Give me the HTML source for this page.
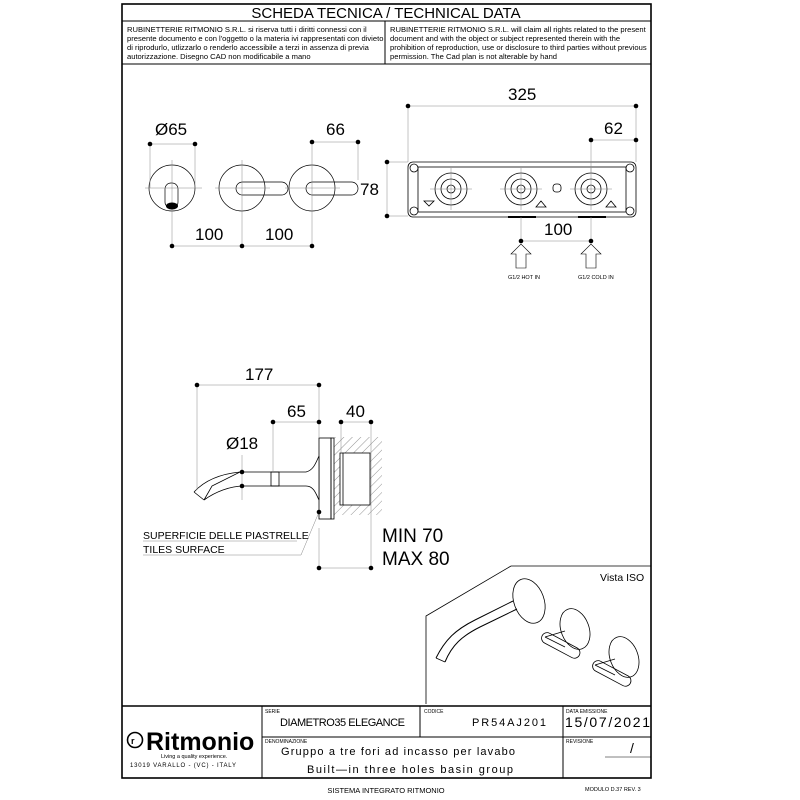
<!DOCTYPE html>
<html><head><meta charset="utf-8"><style>
html,body{margin:0;padding:0;background:#fff;width:800px;height:800px;overflow:hidden}
svg{display:block}
text{font-family:"Liberation Sans",sans-serif;fill:#000}
</style></head><body>
<svg width="800" height="800" viewBox="0 0 800 800" xmlns="http://www.w3.org/2000/svg">
<rect x="122" y="4" width="529" height="774" fill="none" stroke="#000" stroke-width="1.6"/>
<line x1="122" y1="21" x2="651" y2="21" stroke="#000"/>
<line x1="122" y1="64" x2="651" y2="64" stroke="#000"/>
<line x1="385" y1="21" x2="385" y2="64" stroke="#000"/>
<text x="386" y="18" font-size="15" text-anchor="middle">SCHEDA TECNICA / TECHNICAL DATA</text>
<g font-size="7.6">
<text x="127" y="32">RUBINETTERIE RITMONIO S.R.L. si riserva tutti i diritti connessi con il</text>
<text x="127" y="41">presente documento e con l'oggetto o la materia ivi rappresentati con divieto</text>
<text x="127" y="50">di riprodurlo, utlizzarlo o renderlo accessibile a terzi in assenza di previa</text>
<text x="127" y="59">autorizzazione. Disegno CAD non modificabile a mano</text>
<text x="390" y="32">RUBINETTERIE RITMONIO S.R.L. will claim all rights related to the present</text>
<text x="390" y="41">document and with the object or subject represented therein with the</text>
<text x="390" y="50">prohibition  of reproduction, use or disclosure to third parties without previous</text>
<text x="390" y="59">permission.  The Cad plan is not alterable by hand</text>
</g>

<g stroke="#000" stroke-width="0.7" fill="none">
<circle cx="172" cy="188" r="23"/>
<circle cx="242" cy="188" r="23"/>
<circle cx="312" cy="188" r="23"/>
<rect x="165" y="183" width="13" height="25" rx="6"/>
<rect x="236" y="182" width="52" height="13" rx="6.5"/>
<rect x="306" y="182" width="52" height="13" rx="6.5"/>
<g stroke="#888" stroke-width="0.5">
<line x1="145" y1="188" x2="202" y2="188"/><line x1="172" y1="160" x2="172" y2="246"/>
<line x1="215" y1="188" x2="270" y2="188"/><line x1="242" y1="160" x2="242" y2="246"/>
<line x1="285" y1="188" x2="340" y2="188"/><line x1="312" y1="140" x2="312" y2="246"/>
<line x1="150" y1="144" x2="150" y2="188"/><line x1="195" y1="144" x2="195" y2="188"/>
<line x1="358" y1="142" x2="358" y2="180"/>
<line x1="150" y1="144" x2="195" y2="144"/><line x1="312" y1="142" x2="358" y2="142"/>
<line x1="172" y1="246" x2="312" y2="246"/>
</g>
</g>
<ellipse cx="172" cy="206" rx="6" ry="3.5" fill="#000"/>
<g fill="#000">
<circle cx="150" cy="144" r="2.3"/><circle cx="195" cy="144" r="2.3"/>
<circle cx="312" cy="142" r="2.3"/><circle cx="358" cy="142" r="2.3"/>
<circle cx="172" cy="246" r="2.3"/><circle cx="242" cy="246" r="2.3"/><circle cx="312" cy="246" r="2.3"/>
</g>
<g font-size="17">
<text x="155" y="135">Ø65</text>
<text x="326" y="135">66</text>
<text x="195" y="240">100</text>
<text x="265" y="240">100</text>
</g>

<g stroke="#000" stroke-width="0.8" fill="none">
<rect x="408" y="162" width="228" height="55" rx="5"/>
<rect x="418" y="167" width="208" height="45"/>
<circle cx="414" cy="168" r="4"/><circle cx="630" cy="168" r="4"/>
<circle cx="414" cy="211" r="4"/><circle cx="630" cy="211" r="4"/>
<circle cx="451" cy="189" r="16"/><circle cx="451" cy="189" r="10"/><circle cx="451" cy="189" r="4"/>
<circle cx="521" cy="189" r="16"/><circle cx="521" cy="189" r="10"/><circle cx="521" cy="189" r="4"/>
<circle cx="591" cy="189" r="16"/><circle cx="591" cy="189" r="10"/><circle cx="591" cy="189" r="4"/>
<rect x="553" y="184" width="8" height="8" rx="3"/>
<path d="M424 201h10l-5 5z M536 207h10l-5-6z M606 207h10l-5-6z"/>
<path d="M508 217h28 M578 217h28" stroke-width="2"/>
<g stroke="#888" stroke-width="0.5">
<line x1="408" y1="106" x2="408" y2="162"/><line x1="636" y1="106" x2="636" y2="162"/>
<line x1="408" y1="106" x2="636" y2="106"/>
<line x1="591" y1="140" x2="636" y2="140"/><line x1="591" y1="140" x2="591" y2="172"/>
<line x1="387" y1="162" x2="408" y2="162"/><line x1="387" y1="216" x2="408" y2="216"/><line x1="387" y1="162" x2="387" y2="216"/>
<line x1="521" y1="217" x2="521" y2="241"/><line x1="591" y1="217" x2="591" y2="241"/>
<line x1="521" y1="241" x2="591" y2="241"/>
<line x1="430" y1="189" x2="472" y2="189"/><line x1="451" y1="168" x2="451" y2="210"/>
<line x1="500" y1="189" x2="542" y2="189"/><line x1="521" y1="168" x2="521" y2="210"/>
<line x1="570" y1="189" x2="612" y2="189"/><line x1="591" y1="168" x2="591" y2="210"/>
</g>
<path d="M516 268v-14h-5l10-10 10 10h-5v14z M586 268v-14h-5l10-10 10 10h-5v14z" stroke-width="0.6"/>
</g>
<g fill="#000">
<circle cx="408" cy="106" r="2.3"/><circle cx="636" cy="106" r="2.3"/>
<circle cx="591" cy="140" r="2.3"/><circle cx="636" cy="140" r="2.3"/>
<circle cx="387" cy="162" r="2.3"/><circle cx="387" cy="216" r="2.3"/>
<circle cx="521" cy="241" r="2.3"/><circle cx="591" cy="241" r="2.3"/>
</g>
<g font-size="17">
<text x="508" y="100">325</text>
<text x="604" y="134">62</text>
<text x="360" y="195">78</text>
<text x="544" y="235">100</text>
</g>
<text x="508" y="279" font-size="5.5">G1/2 HOT IN</text>
<text x="578" y="279" font-size="5.5">G1/2 COLD IN</text>

<defs><pattern id="h" width="6" height="6" patternUnits="userSpaceOnUse" patternTransform="rotate(45)"><line x1="0" y1="0" x2="0" y2="6" stroke="#666" stroke-width="0.7"/></pattern></defs>
<rect x="334" y="437" width="48" height="78" fill="url(#h)"/>
<g stroke="#000" stroke-width="0.8" fill="none">
<rect x="340" y="453" width="30" height="52" fill="#fff"/>
<line x1="343" y1="453" x2="343" y2="505"/>
<rect x="319" y="438" width="12" height="81" fill="#fff"/>
<rect x="331" y="438" width="3" height="81"/>
<path d="M212 486 L240 472 L306 472 C314 470 316 462 319 456 L319 500 C316 494 314 486 306 486 L244 486 C230 486 215 492 204 500 Z" fill="#fff"/>
<path d="M194 492 L204 500"/>
<path d="M194 492 C205 480 220 474 240 472"/>
<rect x="271" y="472" width="8" height="14"/>
<g stroke="#888" stroke-width="0.5">
<line x1="197" y1="385" x2="197" y2="490"/><line x1="319" y1="385" x2="319" y2="438"/>
<line x1="197" y1="385" x2="319" y2="385"/>
<line x1="273" y1="422" x2="273" y2="472"/><line x1="273" y1="422" x2="319" y2="422"/>
<line x1="341" y1="422" x2="371" y2="422"/><line x1="341" y1="422" x2="341" y2="453"/><line x1="371" y1="422" x2="371" y2="568"/>
<line x1="242" y1="455" x2="242" y2="500"/>
<line x1="319" y1="528" x2="319" y2="568"/><line x1="319" y1="568" x2="371" y2="568"/>
<line x1="143" y1="555" x2="301" y2="555"/><line x1="301" y1="555" x2="319" y2="512"/>
<line x1="143" y1="541" x2="297" y2="541"/>
</g>
</g>
<g fill="#000">
<circle cx="197" cy="385" r="2.3"/><circle cx="319" cy="385" r="2.3"/>
<circle cx="273" cy="422" r="2.3"/><circle cx="319" cy="422" r="2.3"/>
<circle cx="341" cy="422" r="2.3"/><circle cx="371" cy="422" r="2.3"/>
<circle cx="242" cy="472" r="2.3"/><circle cx="242" cy="486" r="2.3"/>
<circle cx="319" cy="512" r="2.3"/><circle cx="319" cy="568" r="2.3"/><circle cx="371" cy="568" r="2.3"/>
</g>
<g font-size="17">
<text x="245" y="380">177</text>
<text x="287" y="417">65</text>
<text x="346" y="417">40</text>
<text x="226" y="449">Ø18</text>
<text x="382" y="542" font-size="19">MIN 70</text>
<text x="382" y="565" font-size="19">MAX 80</text>
</g>
<g font-size="10.5">
<text x="143" y="539">SUPERFICIE DELLE PIASTRELLE</text>
<text x="143" y="553">TILES SURFACE</text>
</g>

<g stroke="#000" stroke-width="0.8" fill="none">
<path d="M426 704 L426 616 L511 566 L651 566"/>
<path d="M436 658 C445 640 455 630 475 620 L513 601" stroke-width="1"/>
<path d="M445 662 C452 645 462 636 480 627 L517 609" stroke-width="1"/>
<path d="M436 658 L445 662"/>
<ellipse cx="529" cy="601" rx="15" ry="23" transform="rotate(-20 529 601)"/>
<ellipse cx="575" cy="629" rx="14" ry="21" transform="rotate(-20 575 629)"/>
<ellipse cx="624" cy="657" rx="14" ry="21" transform="rotate(-20 624 657)"/>
<path d="M545 637 l20 -6 M545 637 l20 10" />
<rect x="540" y="640" width="42" height="11" rx="5.5" transform="rotate(28 561 645)"/>
<path d="M595 665 l20 -6 M595 665 l20 10"/>
<rect x="591" y="668" width="42" height="11" rx="5.5" transform="rotate(28 612 673)"/>
</g>
<text x="600" y="581" font-size="10.5">Vista ISO</text>

<g stroke="#000" fill="none">
<line x1="122" y1="706" x2="651" y2="706" stroke-width="1.4"/>
<line x1="262" y1="706" x2="262" y2="778"/>
<line x1="262" y1="737" x2="651" y2="737"/>
<line x1="420" y1="706" x2="420" y2="737"/>
<line x1="563" y1="706" x2="563" y2="778"/>
<line x1="605" y1="757" x2="651" y2="757" stroke-width="0.5"/>
</g>
<g font-size="5" fill="#999">
<text x="265" y="713" fill="#999">SERIE</text>
<text x="424" y="713" fill="#999">CODICE</text>
<text x="566" y="713" fill="#999">DATA EMISSIONE</text>
<text x="265" y="743" fill="#999">DENOMINAZIONE</text>
<text x="566" y="743" fill="#999">REVISIONE</text>
</g>
<g font-size="11" fill="#333">
<text x="280" y="726" textLength="125" lengthAdjust="spacing" fill="#333">DIAMETRO35  ELEGANCE</text>
<text x="472" y="726" textLength="74" lengthAdjust="spacing" fill="#333">PR54AJ201</text>
<text x="565" y="727" font-size="14" textLength="85" lengthAdjust="spacing" fill="#333">15/07/2021</text>
<text x="630" y="753" font-size="14" fill="#333">/</text>
<text x="281" y="755" textLength="234" lengthAdjust="spacing" fill="#333">Gruppo  a  tre  fori  ad  incasso  per  lavabo</text>
<text x="307" y="773" textLength="206" lengthAdjust="spacing" fill="#333">Built—in  three  holes  basin  group</text>
</g>
<circle cx="135" cy="740" r="7.5" fill="none" stroke="#000" stroke-width="1.6"/>
<text x="131" y="744" font-size="9" font-weight="bold">r</text>
<text x="146" y="750" font-size="25" font-weight="bold">Ritmonio</text>
<text x="161" y="758" font-size="5.5">Living a quality experience.</text>
<text x="130" y="767" font-size="6" style="letter-spacing:0.8px">13019 VARALLO - (VC) - ITALY</text>

<text x="386" y="793" font-size="7.5" text-anchor="middle">SISTEMA INTEGRATO RITMONIO</text>
<text x="585" y="791" font-size="5.5">MODULO D.37 REV. 3</text>
</svg>
</body></html>
